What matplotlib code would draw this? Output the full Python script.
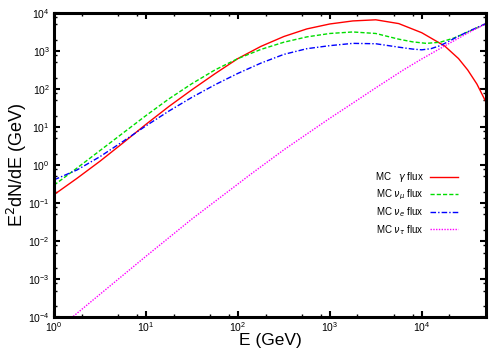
import numpy as np
import matplotlib
matplotlib.use("Agg")
import matplotlib.pyplot as plt
from matplotlib.ticker import FixedLocator, NullFormatter, LogFormatterSciNotation

plt.rcParams['font.family'] = ['Liberation Sans', 'DejaVu Sans']

# log10(E/GeV) and log10(E^2 dN/dE / GeV)
gamma_logE = [0.0, 0.25, 0.5, 0.75, 1.0, 1.25, 1.5, 1.75, 2.0, 2.25, 2.5, 2.75, 3.0, 3.25,
              3.5, 3.75, 4.0, 4.25, 4.4, 4.5, 4.6, 4.7]
gamma_logF = [-0.78, -0.35, 0.10, 0.58, 1.07, 1.54, 1.98, 2.40, 2.80, 3.12, 3.38, 3.58, 3.71, 3.79,
              3.82, 3.72, 3.48, 3.13, 2.80, 2.50, 2.13, 1.65]

numu_logE = [0.0, 0.25, 0.5, 0.75, 1.0, 1.25, 1.5, 1.75, 2.0, 2.25, 2.5, 2.75, 3.0, 3.25,
             3.5, 3.75, 3.9, 4.05, 4.2, 4.35, 4.5, 4.6, 4.7]
numu_logF = [-0.53, -0.08, 0.38, 0.84, 1.30, 1.74, 2.14, 2.50, 2.80, 3.04, 3.23, 3.37, 3.46, 3.50,
             3.46, 3.31, 3.24, 3.20, 3.23, 3.34, 3.50, 3.61, 3.72]

nue_logE = [0.0, 0.25, 0.5, 0.75, 1.0, 1.25, 1.5, 1.75, 2.0, 2.25, 2.5, 2.75, 3.0, 3.25,
            3.5, 3.75, 3.9, 4.0, 4.1, 4.2, 4.3, 4.4, 4.55, 4.7]
nue_logF = [-0.39, -0.13, 0.22, 0.62, 1.03, 1.42, 1.78, 2.11, 2.41, 2.68, 2.91, 3.06, 3.14, 3.20,
            3.19, 3.10, 3.05, 3.03, 3.06, 3.14, 3.26, 3.39, 3.56, 3.72]

nutau_logE = [0.0, 0.2, 0.5, 1.0, 1.22, 1.5, 2.0, 2.13, 2.5, 3.0, 3.22, 3.5, 3.8, 4.0, 4.27, 4.5, 4.7]
nutau_logF = [-4.4, -4.0, -3.4, -2.4, -1.97, -1.42, -0.5, -0.26, 0.4, 1.23, 1.58, 2.03, 2.5, 2.79,
              3.16, 3.47, 3.72]

x_decades = [0, 1, 2, 3, 4]
y_decades = [-4, -3, -2, -1, 0, 1, 2, 3, 4]
minor_subs = [2, 5, 8]

labels = [r"MC   $\gamma$ flux", r"MC $\nu_\mu$ flux", r"MC $\nu_e$ flux", r"MC $\nu_\tau$ flux"]
colors = ["#ff0000", "#00dd00", "#0000ff", "#ff00ff"]
styles = ["-", (0, (3, 1.5)), (0, (4, 1.5, 1, 1.5)), (0, (1, 1))]

series = [(gamma_logE, gamma_logF), (numu_logE, numu_logF),
          (nue_logE, nue_logF), (nutau_logE, nutau_logF)]

fig = plt.figure(figsize=(5, 3.5), dpi=100)
ax = fig.add_axes([0.108, 0.094, 0.864, 0.869])

for (lx, ly), lab, c, ls in zip(series, labels, colors, styles):
    E = 10 ** np.array(lx)
    F = 10 ** np.array(ly)
    ax.plot(E, F, color=c, ls=ls, lw=1.0, label=lab)

ax.set_xscale('log')
ax.set_yscale('log')
ax.set_xlim(1, 5e4)
ax.set_ylim(1e-4, 1e4)

xmaj = [10.0 ** d for d in x_decades]
ymaj = [10.0 ** d for d in y_decades]
xmin = [s * 10.0 ** d for d in x_decades for s in minor_subs if s * 10.0 ** d < 5e4]
ymin = [s * 10.0 ** d for d in y_decades[:-1] for s in minor_subs]

ax.xaxis.set_major_locator(FixedLocator(xmaj))
ax.yaxis.set_major_locator(FixedLocator(ymaj))
ax.xaxis.set_minor_locator(FixedLocator(xmin))
ax.yaxis.set_minor_locator(FixedLocator(ymin))
for axis in (ax.xaxis, ax.yaxis):
    axis.set_major_formatter(LogFormatterSciNotation())
    axis.set_minor_formatter(NullFormatter())

ax.tick_params(which='both', direction='in', top=True, right=True, labelsize=7.5)
ax.tick_params(which='minor', labelbottom=False, labelleft=False)
ax.tick_params(axis='x', pad=2)
ax.tick_params(axis='y', pad=3)
ax.tick_params(which='major', length=4.5, width=1.5)
ax.tick_params(which='minor', length=2.5, width=1.0)
for s in ax.spines.values():
    s.set_linewidth(2.2)

ax.set_xlabel("E (GeV)", fontsize=12.5, labelpad=-0.5)
ax.set_ylabel(r"E$^2$dN/dE (GeV)", fontsize=13, labelpad=-1)

leg = ax.legend(loc='upper right', bbox_to_anchor=(0.945, 0.495), frameon=False,
                markerfirst=False, fontsize=7, handlelength=2.9,
                handletextpad=0.7, labelspacing=0.35, borderaxespad=0)

fig.savefig("out.png", dpi=100)
